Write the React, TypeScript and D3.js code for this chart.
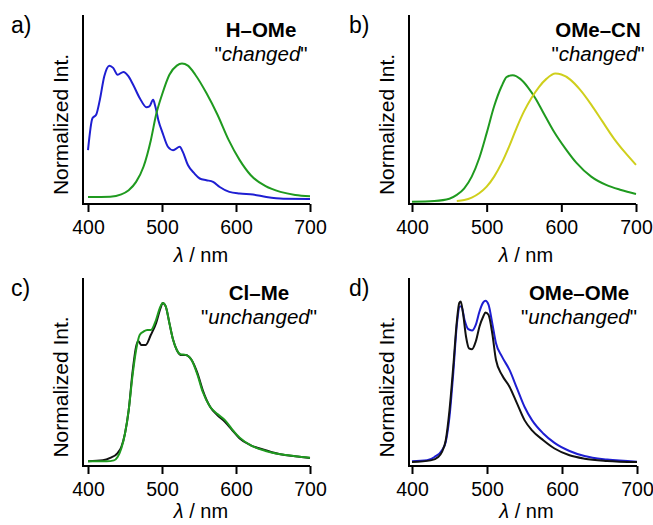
import React, { useEffect, useRef } from "react";
import * as d3 from "d3";

// wavelength ticks
const xTicks = [400, 500, 600, 700];

// a) H-OMe
const aBlueNm = [400, 406, 411, 416, 422, 429, 434, 440, 448, 454, 461, 470, 479, 483, 488, 491, 495, 501, 508, 515, 524, 528, 535, 544, 551, 560, 569, 578, 591, 605, 623, 641, 664, 700];
const aBlueInt = [28.5, 45.4, 47.2, 55.1, 67.6, 73.2, 72.0, 68.4, 69.9, 67.9, 63.1, 56.0, 51.2, 51.6, 55.1, 51.6, 44.5, 37.4, 30.3, 28.5, 30.3, 27.7, 20.6, 16.1, 13.5, 12.6, 11.7, 9.0, 6.4, 5.5, 5.0, 3.7, 2.8, 2.7];
const aGreenNm = [400, 430, 445, 455, 465, 475, 485, 492, 500, 510, 520, 527, 535, 545, 560, 575, 590, 605, 620, 640, 660, 680, 700];
const aGreenInt = [3.7, 3.9, 5.1, 7.3, 11.7, 19.7, 33.9, 47.2, 57.8, 68.4, 73.2, 74.3, 73.2, 68.4, 58.7, 47.2, 33.9, 23.2, 15.2, 9.4, 6.4, 4.8, 4.1];

// b) OMe-CN
const bGreenNm = [400, 430, 450, 460, 470, 480, 490, 500, 510, 520, 527, 535, 545, 555, 565, 575, 590, 605, 620, 640, 660, 680, 700];
const bGreenInt = [1.2, 1.6, 2.8, 4.8, 8.3, 14.5, 24.2, 37.5, 51.7, 62.3, 67.3, 68.1, 66.2, 61.9, 56.1, 49.0, 38.4, 29.6, 21.9, 14.5, 10.1, 7.4, 5.3];
const bYellowNm = [460, 470, 480, 490, 500, 510, 520, 530, 540, 550, 560, 570, 580, 592, 600, 612, 625, 640, 655, 670, 685, 700];
const bYellowInt = [1.6, 2.1, 3.4, 5.7, 9.2, 14.5, 21.6, 30.4, 40.2, 49.0, 56.1, 61.9, 66.2, 69.0, 68.5, 65.8, 60.5, 52.6, 43.7, 34.9, 27.4, 20.7];

// c) Cl-Me
const cBlackNm = [400, 420, 430, 440, 445, 450, 455, 460, 465, 468, 472, 478, 485, 492, 498, 501, 505, 510, 515, 520, 525, 532, 540, 548, 555, 565, 575, 585, 595, 605, 620, 640, 660, 680, 700];
const cBlackInt = [2.5, 3.0, 4.3, 6.9, 10.1, 17.3, 29.7, 49.3, 63.5, 66.5, 64.4, 64.4, 69.8, 76.0, 84.0, 86.7, 84.9, 76.0, 67.1, 61.7, 59.1, 59.1, 56.4, 49.3, 40.4, 31.5, 27.0, 23.5, 19.0, 14.6, 11.0, 8.4, 6.2, 5.2, 4.3];
const cGreenNm = [400, 425, 435, 440, 445, 450, 455, 460, 465, 470, 475, 480, 485, 492, 497, 501, 505, 510, 515, 520, 525, 532, 540, 548, 555, 565, 575, 585, 595, 605, 620, 640, 660, 680, 700];
const cGreenInt = [2.5, 2.5, 3.0, 4.8, 9.3, 17.3, 29.7, 47.5, 61.7, 69.8, 71.5, 72.4, 72.4, 77.8, 84.0, 86.7, 84.9, 76.0, 67.1, 61.7, 59.4, 59.1, 56.4, 48.4, 39.5, 31.5, 27.6, 24.4, 19.4, 15.1, 11.0, 8.0, 6.2, 5.2, 4.4];

// d) OMe-OMe
const dBlueNm = [400, 420, 430, 440, 445, 450, 455, 460, 464, 466, 470, 475, 480, 485, 490, 495, 498, 502, 507, 512, 520, 530, 540, 550, 560, 575, 590, 610, 630, 660, 700];
const dBlueInt = [2.5, 3.0, 4.8, 8.4, 12.8, 26.2, 49.3, 76.0, 84.9, 84.9, 77.8, 72.8, 72.1, 75.1, 82.2, 87.0, 87.9, 85.8, 76.0, 65.3, 58.2, 51.1, 41.3, 31.5, 24.4, 17.3, 12.3, 8.0, 5.3, 3.4, 2.3];
const dBlackNm = [400, 425, 435, 440, 445, 450, 455, 460, 463, 465, 468, 472, 476, 480, 485, 490, 495, 498, 502, 507, 512, 520, 530, 540, 550, 560, 575, 590, 610, 630, 660, 700];
const dBlackInt = [2.1, 3.0, 4.8, 7.5, 13.7, 29.7, 52.8, 77.8, 86.7, 87.5, 81.3, 68.9, 62.6, 62.1, 66.2, 74.2, 79.5, 81.7, 80.4, 70.6, 56.4, 48.4, 42.2, 33.3, 24.4, 19.0, 13.7, 9.3, 5.7, 3.9, 2.7, 2.1];

const BLUE = "#1e1ed2";
const GREEN = "#1f9a1f";
const YELLOW = "#cfcf1c";
const BLACK = "#111111";

const zip = (nm: number[], v: number[]) => nm.map((n, i) => ({ nm: n, v: v[i] }));

const panels = [
  {
    tag: "a)", name: "H\u2013OMe", note: "changed",
    ax: 83, x0: 88, x1: 310, yb: 204, yt: 15, tagX: 11, titleX: 261, xlabY: 262,
    series: [{ d: zip(aBlueNm, aBlueInt), c: BLUE }, { d: zip(aGreenNm, aGreenInt), c: GREEN }],
  },
  {
    tag: "b)", name: "OMe\u2013CN", note: "changed",
    ax: 409, x0: 412, x1: 636, yb: 204, yt: 15, tagX: 349, titleX: 598, xlabY: 262,
    series: [{ d: zip(bGreenNm, bGreenInt), c: GREEN }, { d: zip(bYellowNm, bYellowInt), c: YELLOW }],
  },
  {
    tag: "c)", name: "Cl\u2013Me", note: "unchanged",
    ax: 83, x0: 88, x1: 310, yb: 466, yt: 278, tagX: 11, titleX: 259, xlabY: 518,
    series: [{ d: zip(cBlackNm, cBlackInt), c: BLACK }, { d: zip(cGreenNm, cGreenInt), c: GREEN }],
  },
  {
    tag: "d)", name: "OMe\u2013OMe", note: "unchanged",
    ax: 409, x0: 412, x1: 637, yb: 466, yt: 278, tagX: 349, titleX: 579, xlabY: 518,
    series: [{ d: zip(dBlueNm, dBlueInt), c: BLUE }, { d: zip(dBlackNm, dBlackInt), c: BLACK }],
  },
];

const drawChart = (node: SVGSVGElement) => {
  const svg = d3.select(node);
  svg.selectAll("*").remove();
  const font = "Liberation Sans, Arial, sans-serif";

  panels.forEach((p) => {
    const x = d3.scaleLinear().domain([400, 700]).range([p.x0, p.x1]);
    const y = d3.scaleLinear().domain([0, 100]).range([p.yb, p.yt]);
    const g = svg.append("g");

    // spectra
    const line = d3
      .line<{ nm: number; v: number }>()
      .x((d) => x(d.nm))
      .y((d) => y(d.v))
      .curve(d3.curveMonotoneX);
    p.series.forEach((s) => {
      g.append("path")
        .attr("d", line(s.d))
        .attr("fill", "none")
        .attr("stroke", s.c)
        .attr("stroke-width", 2)
        .attr("stroke-linejoin", "round");
    });

    // axes
    g.append("path")
      .attr("d", `M${p.ax},${p.yt}V${p.yb}H${p.x1}`)
      .attr("fill", "none")
      .attr("stroke", "#000")
      .attr("stroke-width", 2);
    const xa = g
      .append("g")
      .attr("transform", `translate(0,${p.yb})`)
      .call(d3.axisBottom(x).tickValues(xTicks).tickSize(8).tickSizeOuter(0).tickPadding(8));
    xa.select(".domain").remove();
    xa.selectAll("line").attr("stroke", "#000").attr("stroke-width", 2);
    xa.selectAll("text")
      .attr("font-family", font)
      .attr("font-size", 19.5)
      .attr("fill", "#000");

    // x label
    const xl = g
      .append("text")
      .attr("x", (p.x0 + p.x1) / 2 + 2)
      .attr("y", p.xlabY)
      .attr("text-anchor", "middle")
      .attr("font-family", font)
      .attr("font-size", 20);
    xl.append("tspan").attr("font-style", "italic").text("\u03bb");
    xl.append("tspan").text(" / nm");

    // y label
    g.append("text")
      .attr("transform", `translate(${p.ax - 15},${(p.yt + p.yb) / 2 + 15}) rotate(-90)`)
      .attr("text-anchor", "middle")
      .attr("font-family", font)
      .attr("font-size", 21)
      .text("Normalized Int.");

    // panel tag
    g.append("text")
      .attr("x", p.tagX)
      .attr("y", p.yt + 18)
      .attr("font-family", font)
      .attr("font-size", 23)
      .text(p.tag);

    // title
    g.append("text")
      .attr("x", p.titleX)
      .attr("y", p.yt + 22)
      .attr("text-anchor", "middle")
      .attr("font-family", font)
      .attr("font-weight", "bold")
      .attr("font-size", 20.5)
      .text(p.name);
    const nt = g
      .append("text")
      .attr("x", p.titleX)
      .attr("y", p.yt + 46)
      .attr("text-anchor", "middle")
      .attr("font-family", font)
      .attr("font-size", 20.5);
    nt.append("tspan").text('"');
    nt.append("tspan").attr("font-style", "italic").text(p.note);
    nt.append("tspan").text('"');
  });
};

const App = () => {
  const ref = useRef<SVGSVGElement>(null);
  useEffect(() => {
    if (ref.current) drawChart(ref.current);
  });
  return (
    <svg
      ref={ref}
      width={653}
      height={525}
      style={{ position: "absolute", left: 0, top: 0, background: "#fff" }}
    />
  );
};

export default App;
